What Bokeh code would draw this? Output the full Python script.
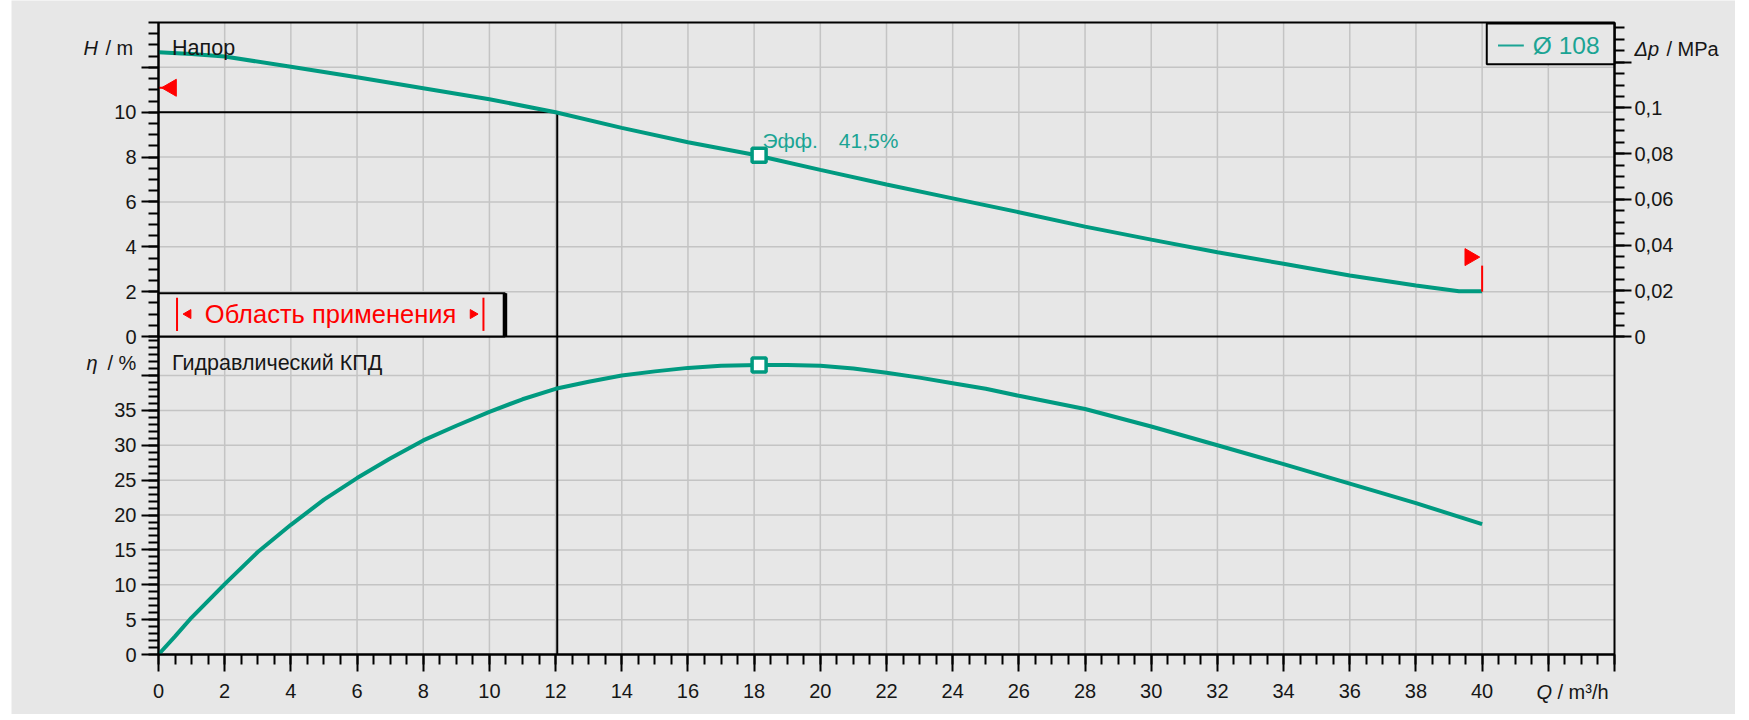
import math
from bokeh.plotting import figure
from bokeh.layouts import row
from bokeh.models import (Range1d, LinearAxis, FixedTicker, CustomJSTickFormatter,
                          Label, Spacer)
from bokeh.embed import file_html
from bokeh.resources import INLINE

# ---------------- data ----------------
q_head = [0, 1, 2, 4, 6, 8, 10, 12, 14, 16, 18, 20, 22, 24, 26, 28, 30, 32, 34, 36, 38, 39.3, 40]
head_m = [12.67, 12.6, 12.48, 12.03, 11.56, 11.07, 10.58, 10.0, 9.3, 8.66, 8.1, 7.43, 6.78,
          6.16, 5.54, 4.9, 4.32, 3.76, 3.24, 2.72, 2.27, 2.02, 2.02]

q_eff = [0, 0.5, 1, 2, 3, 4, 5, 6, 7, 8, 9, 10, 11, 12, 13, 14, 15, 16, 17, 18.15, 19, 20,
         21, 22, 23, 24, 25, 26, 28, 30, 32, 34, 36, 38, 40]
eff_pct = [0, 2.6, 5.3, 10.1, 14.7, 18.6, 22.2, 25.3, 28.1, 30.7, 32.8, 34.8, 36.6, 38.1,
           39.1, 40.0, 40.6, 41.1, 41.4, 41.5, 41.5, 41.4, 41.0, 40.4, 39.7, 38.9, 38.1,
           37.1, 35.2, 32.7, 30.0, 27.3, 24.5, 21.7, 18.7]

bep_q = [18.15]
bep_head = [8.08]
bep_eff = [41.5]
bep_word = "Эфф."
bep_value = "41,5%"

duty_q = [12.05]
duty_head = [10.0]

# application range flags
flag_left_q, flag_left_h = [0.39], [11.09]
flag_right_q, flag_right_h = [39.63], [3.54]

q_ticks = list(range(0, 45, 2))
q_tick_labels = [str(v) for v in range(0, 41, 2)]
h_ticks = [0, 2, 4, 6, 8, 10, 12]
h_tick_labels = ["0", "2", "4", "6", "8", "10"]
eta_ticks = [0, 5, 10, 15, 20, 25, 30, 35, 40]
eta_tick_labels = ["0", "5", "10", "15", "20", "25", "30", "35"]
dp_ticks = [0, 0.02, 0.04, 0.06, 0.08, 0.1, 0.12]
dp_tick_labels = ["0", "0,02", "0,04", "0,06", "0,08", "0,1"]

legend_text = "Ø 108"
range_text = "Область применения"

# ---------------- styles / geometry ----------------
BG = "#e7e7e7"
GRID = "#c4c4c4"
TEAL = "#009a80"
TEAL_TXT = "#1ba494"
RED = "#ff0000"
INK = "#161616"
FONT = "Liberation Sans"

W, HGT = 1724, 714                       # canvas size
BOX_L, BOX_R, BOX_T, SEP, BOX_B = 147, 1603, 22, 336, 654   # chart box in canvas px

Q_MAX = 44.0
H_TOP = 14.0
ETA_SPLIT = 45.6
RHO_G = 0.00981  # MPa per m of water

PX_Q = (BOX_R - BOX_L) / Q_MAX
PX_H = (SEP - BOX_T) / H_TOP
PX_E = (BOX_B - SEP) / ETA_SPLIT
H_BOX_BOTTOM = -(BOX_B - SEP) / PX_H

x_rng = Range1d(-BOX_L / PX_Q, Q_MAX + (W - BOX_R) / PX_Q)
h_rng = Range1d(-(HGT - SEP) / PX_H, H_TOP + BOX_T / PX_H)
e_rng = Range1d(-(HGT - BOX_B) / PX_E, ETA_SPLIT + SEP / PX_E)
dp_rng = Range1d(h_rng.start * RHO_G, h_rng.end * RHO_G)

p = figure(width=W, height=HGT, x_range=x_rng, y_range=h_rng,
           x_axis_location=None, y_axis_location=None,
           toolbar_location=None, output_backend="svg",
           min_border=0, min_border_left=0, min_border_right=0,
           min_border_top=0, min_border_bottom=0,
           background_fill_color=BG, border_fill_color=BG, outline_line_color=None)
p.extra_y_ranges = {"eta": e_rng, "dp": dp_rng}
for g in p.xgrid + p.ygrid:
    g.visible = False

# ---------------- grid lines ----------------
qg = q_ticks[1:-1]
p.segment(x0=qg, y0=[H_BOX_BOTTOM] * len(qg), x1=qg, y1=[H_TOP] * len(qg),
          line_color=GRID, line_width=1.5)
hg = h_ticks[1:]
p.segment(x0=[0] * len(hg), y0=hg, x1=[Q_MAX] * len(hg), y1=hg, line_color=GRID, line_width=1.5)
eg = eta_ticks[1:]
p.segment(x0=[0] * len(eg), y0=eg, x1=[Q_MAX] * len(eg), y1=eg, line_color=GRID, line_width=1.5,
          y_range_name="eta")

# chart box and panel separator
p.quad(left=[0], right=[Q_MAX], bottom=[H_BOX_BOTTOM], top=[H_TOP], fill_color=None,
       line_color="black", line_width=2)
p.segment(x0=[0], y0=[0], x1=[Q_MAX], y1=[0], line_color="black", line_width=2)


def style_axis(ax, standoff=5):
    ax.axis_line_color = "black"
    ax.axis_line_width = 2
    ax.major_tick_in = 0
    ax.major_tick_out = 17
    ax.minor_tick_in = 0
    ax.minor_tick_out = 10
    ax.major_tick_line_width = 2
    ax.minor_tick_line_width = 2
    ax.major_tick_line_color = "black"
    ax.minor_tick_line_color = "black"
    ax.major_label_text_font = FONT
    ax.major_label_text_font_size = "20px"
    ax.major_label_text_color = INK
    ax.major_label_standoff = standoff


def list_formatter(labels, step):
    return CustomJSTickFormatter(
        args=dict(lab=labels, step=step),
        code="const i = Math.round(tick / step); return (i >= 0 && i < lab.length) ? lab[i] : '';")


# left axis, head
ax_h = LinearAxis(fixed_location=0, bounds=(0, H_TOP),
                  ticker=FixedTicker(ticks=h_ticks, minor_ticks=[v * 0.5 for v in range(0, 29)]),
                  formatter=list_formatter(h_tick_labels, 2))
style_axis(ax_h)
p.add_layout(ax_h, "left")

# left axis, efficiency
ax_e = LinearAxis(y_range_name="eta", fixed_location=0, bounds=(0, ETA_SPLIT),
                  ticker=FixedTicker(ticks=eta_ticks, minor_ticks=list(range(0, 46))),
                  formatter=list_formatter(eta_tick_labels, 5))
style_axis(ax_e)
p.add_layout(ax_e, "left")

# right axis, pressure
ax_dp = LinearAxis(y_range_name="dp", fixed_location=Q_MAX, bounds=(0, H_TOP * RHO_G),
                   ticker=FixedTicker(ticks=dp_ticks,
                                      minor_ticks=[round(v * 0.005, 4) for v in range(0, 28)]),
                   formatter=list_formatter(dp_tick_labels, 0.02))
style_axis(ax_dp, standoff=3)
p.add_layout(ax_dp, "right")

# bottom axis, flow
ax_q = LinearAxis(y_range_name="eta", fixed_location=0, bounds=(0, Q_MAX),
                  ticker=FixedTicker(ticks=q_ticks, minor_ticks=[v * 0.5 for v in range(0, 89)]),
                  formatter=list_formatter(q_tick_labels, 2))
style_axis(ax_q, standoff=12)
p.add_layout(ax_q, "below")

# ---------------- application range box ----------------
p.quad(left=[0], right=[10.47], bottom=[0], top=[1.93], fill_color=BG,
       line_color="black", line_width=2)
p.segment(x0=[10.47], y0=[0], x1=[10.47], y1=[1.93], line_color="black", line_width=4.5)
p.segment(x0=[0.56, 9.82], y0=[0.25, 0.25], x1=[0.56, 9.82], y1=[1.73, 1.73],
          line_color=RED, line_width=2)
p.scatter([0.9], [1.0], marker="triangle", angle=math.pi / 2, size=9,
          fill_color=RED, line_color=RED)
p.scatter([9.5], [1.0], marker="triangle", angle=-math.pi / 2, size=9,
          fill_color=RED, line_color=RED)
p.add_layout(Label(x=5.2, y=1.0, text=range_text, text_align="center", text_baseline="middle",
                   text_font=FONT, text_font_size="25.5px", text_color=RED))

# ---------------- legend box ----------------
p.quad(left=[40.14], right=[Q_MAX], bottom=[12.14], top=[13.95], fill_color=BG,
       line_color="black", line_width=2)
p.segment(x0=[40.48], y0=[12.98], x1=[41.26], y1=[12.98], line_color=TEAL_TXT, line_width=2)
p.add_layout(Label(x=41.53, y=12.98, text=legend_text, text_align="left", text_baseline="middle",
                   text_font=FONT, text_font_size="24.5px", text_color=TEAL_TXT))

# ---------------- duty point lines ----------------
p.segment(x0=[0], y0=duty_head, x1=duty_q, y1=duty_head, line_color="black", line_width=2)
p.segment(x0=duty_q, y0=duty_head, x1=duty_q, y1=[H_BOX_BOTTOM], line_color="black", line_width=2)

# ---------------- curves ----------------
p.line(q_head, head_m, line_color=TEAL, line_width=4)
p.line(q_eff, eff_pct, y_range_name="eta", line_color=TEAL, line_width=4)

p.scatter(bep_q, bep_head, marker="square", size=14, fill_color="white",
          line_color=TEAL, line_width=3.5)
p.scatter(bep_q, bep_eff, marker="square", size=14, fill_color="white",
          line_color=TEAL, line_width=3.5, y_range_name="eta")

# flags
p.segment(x0=[0], y0=flag_left_h, x1=[0.15], y1=flag_left_h, line_color=RED, line_width=2)
p.scatter(flag_left_q, flag_left_h, marker="triangle", angle=math.pi / 2, size=17,
          fill_color=RED, line_color=RED)
p.segment(x0=[40], y0=[2.0], x1=[40], y1=[3.16], line_color=RED, line_width=2)
p.scatter(flag_right_q, flag_right_h, marker="triangle", angle=-math.pi / 2, size=17,
          fill_color=RED, line_color=RED)


# ---------------- texts ----------------
def lab(**kw):
    base = dict(text_font=FONT, text_font_size="21.5px", text_color=INK, text_baseline="middle",
                text_align="left")
    base.update(kw)
    p.add_layout(Label(**base))


lab(x=0.41, y=12.85, text="Напор")
lab(x=0.41, y=41.8, y_range_name="eta", text="Гидравлический КПД")
lab(x=18.25, y=8.72, text=bep_word, text_color=TEAL_TXT, text_font_size="21px")
lab(x=20.56, y=8.72, text=bep_value, text_color=TEAL_TXT, text_font_size="21px")

# axis titles
lab(x=0, y=12.85, x_offset=-75, text="H", text_font_size="20px", text_font_style="italic")
lab(x=0, y=12.85, x_offset=-53, text="/ m", text_font_size="20px")
lab(x=0, y=41.8, y_range_name="eta", x_offset=-72, text="η", text_font_size="20px",
    text_font_style="italic")
lab(x=0, y=41.8, y_range_name="eta", x_offset=-51, text="/ %", text_font_size="20px")
lab(x=Q_MAX, y=12.8, x_offset=20, text="Δp", text_font_size="20px", text_font_style="italic")
lab(x=Q_MAX, y=12.8, x_offset=52, text="/ MPa", text_font_size="20px")
lab(x=Q_MAX, y=0, y_range_name="eta", y_offset=-37, x_offset=-78, text="Q",
    text_font_size="20px", text_font_style="italic")
lab(x=Q_MAX, y=0, y_range_name="eta", y_offset=-37, x_offset=-57, text="/ m³/h",
    text_font_size="20px")

layout = row(Spacer(width=11, height=HGT), p)
open("out.html", "w").write(file_html(layout, INLINE))
